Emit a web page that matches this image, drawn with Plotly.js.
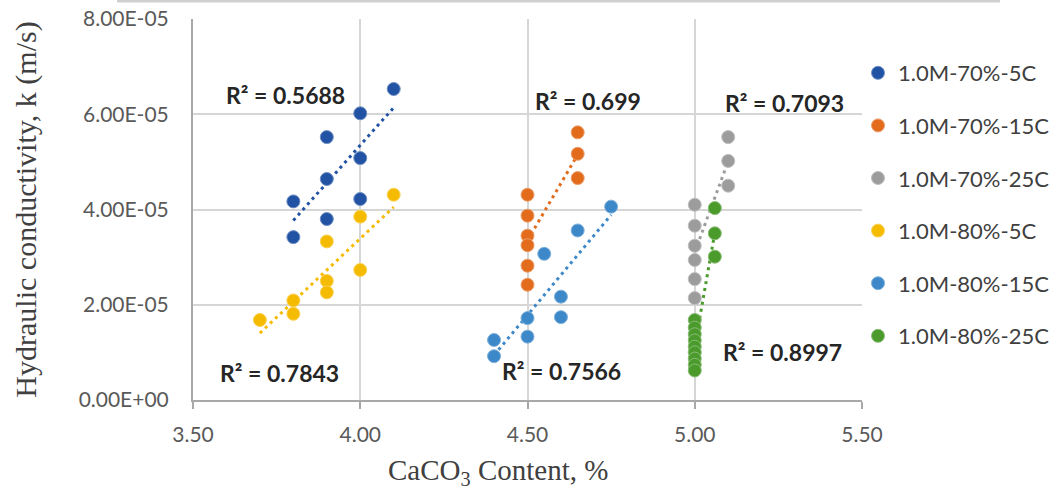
<!DOCTYPE html>
<html>
<head>
<meta charset="utf-8">
<script src="https://cdn.plot.ly/plotly-3.0.1.min.js"></script>
<style>html,body{margin:0;padding:0;background:#fff;}#chart{width:1058px;height:492px;}</style>
</head>
<body>
<div id="chart"></div>
<script>
// ---- data (CaCO3 content %, hydraulic conductivity m/s) ----
const seriesNames = ["1.0M-70%-5C","1.0M-70%-15C","1.0M-70%-25C","1.0M-80%-5C","1.0M-80%-15C","1.0M-80%-25C"];
const seriesColors = ["#2152a3","#e26b1c","#9c9c9c","#f5bb00","#3d88c9","#4b9a2c"];

const x_70_5C  = [4.10, 4.00, 3.90, 4.00, 3.90, 3.80, 4.00, 3.90, 3.80];
const k_70_5C  = [6.53e-5, 6.02e-5, 5.52e-5, 5.08e-5, 4.64e-5, 4.17e-5, 4.22e-5, 3.80e-5, 3.42e-5];

const x_70_15C = [4.65, 4.65, 4.65, 4.50, 4.50, 4.50, 4.50, 4.50, 4.50];
const k_70_15C = [5.62e-5, 5.17e-5, 4.66e-5, 4.31e-5, 3.87e-5, 3.45e-5, 3.25e-5, 2.82e-5, 2.42e-5];

const x_70_25C = [5.10, 5.10, 5.10, 5.00, 5.00, 5.00, 5.00, 5.00, 5.00];
const k_70_25C = [5.52e-5, 5.02e-5, 4.50e-5, 4.10e-5, 3.66e-5, 3.24e-5, 2.94e-5, 2.54e-5, 2.14e-5];

const x_80_5C  = [4.10, 4.00, 3.90, 4.00, 3.90, 3.90, 3.80, 3.80, 3.70];
const k_80_5C  = [4.31e-5, 3.85e-5, 3.33e-5, 2.73e-5, 2.50e-5, 2.26e-5, 2.09e-5, 1.81e-5, 1.68e-5];

const x_80_15C = [4.75, 4.65, 4.55, 4.60, 4.60, 4.50, 4.50, 4.40, 4.40];
const k_80_15C = [4.06e-5, 3.56e-5, 3.07e-5, 2.17e-5, 1.74e-5, 1.72e-5, 1.33e-5, 1.26e-5, 0.92e-5];

const x_80_25C = [5.06, 5.06, 5.06, 5.00, 5.00, 5.00, 5.00, 5.00, 5.00, 5.00, 5.00, 5.00];
const k_80_25C = [4.03e-5, 3.50e-5, 3.01e-5, 1.68e-5, 1.52e-5, 1.38e-5, 1.25e-5, 1.12e-5, 1.00e-5, 0.87e-5, 0.74e-5, 0.62e-5];

const r2Labels = ["R² = 0.5688","R² = 0.699","R² = 0.7093","R² = 0.7843","R² = 0.7566","R² = 0.8997"];
const r2X = [3.778, 4.68, 5.267, 3.76, 4.603, 5.262];
const r2Y = [6.41e-5, 6.28e-5, 6.24e-5, 0.57e-5, 0.61e-5, 1.01e-5];

const xTickVals = [3.5, 4.0, 4.5, 5.0, 5.5];
const xTickText = ["3.50","4.00","4.50","5.00","5.50"];
const yTickVals = [0, 2e-5, 4e-5, 6e-5, 8e-5];
const yTickText = ["0.00E+00","2.00E-05","4.00E-05","6.00E-05","8.00E-05"];
const xTitle = "CaCO<sub>3</sub> Content, %";
const yTitle = "Hydraulic conductivity, k (m/s)";

// ---- build ----
const xs = [x_70_5C, x_70_15C, x_70_25C, x_80_5C, x_80_15C, x_80_25C];
const ks = [k_70_5C, k_70_15C, k_70_25C, k_80_5C, k_80_15C, k_80_25C];

function lighten(hex, f){
  const n = parseInt(hex.slice(1),16);
  let r=(n>>16)&255,g=(n>>8)&255,b=n&255;
  r=Math.round(r+(255-r)*f);g=Math.round(g+(255-g)*f);b=Math.round(b+(255-b)*f);
  return `rgb(${r},${g},${b})`;
}
function fit(x,y){
  const n=x.length; let mx=0,my=0;
  for(let i=0;i<n;i++){mx+=x[i];my+=y[i];}
  mx/=n;my/=n;let sxy=0,sxx=0;
  for(let i=0;i<n;i++){sxy+=(x[i]-mx)*(y[i]-my);sxx+=(x[i]-mx)*(x[i]-mx);}
  const s=sxy/sxx; return {s:s,b:my-s*mx};
}

const traces = [];
for(let i=0;i<6;i++){
  const f = fit(xs[i], ks[i]);
  const x0 = Math.min(...xs[i]), x1 = Math.max(...xs[i]);
  traces.push({
    x:[x0,x1], y:[f.s*x0+f.b, f.s*x1+f.b], type:"scatter", mode:"lines",
    line:{color:seriesColors[i], width:3, dash:"3px,4px"},
    showlegend:false, hoverinfo:"skip"
  });
}
for(let i=0;i<6;i++){
  traces.push({
    x:xs[i], y:ks[i], type:"scatter", mode:"markers", name:seriesNames[i],
    legendgroup:"g"+i,
    marker:{color:seriesColors[i], size:13, line:{color:lighten(seriesColors[i],0.35), width:1}}
  });
}

const annotations = r2Labels.map((t,i)=>({
  x:r2X[i], y:r2Y[i], xref:"x", yref:"y", text:"<b>"+t+"</b>", showarrow:false,
  font:{family:"Lato, 'Open Sans', sans-serif", size:23, color:"#262626"},
  xanchor:"center", yanchor:"middle"
}));
annotations.push({
  x:(498-193)/669, y:(400-472)/381, xref:"paper", yref:"paper", text:xTitle, showarrow:false,
  font:{family:"'Liberation Serif', 'DejaVu Serif', serif", size:29, color:"#404040"},
  xanchor:"center", yanchor:"middle"
});

const layout = {
  width:1058, height:492,
  margin:{l:193, r:196, t:19, b:92, pad:0, autoexpand:false},
  paper_bgcolor:"#fff", plot_bgcolor:"#fff",
  showlegend:true,
  font:{family:"Lato, 'Open Sans', sans-serif", color:"#595959"},
  xaxis:{
    range:[3.5,5.5], tickvals:xTickVals, ticktext:xTickText,
    showgrid:true, gridcolor:"#d6d6d6", gridwidth:2,
    showline:true, linecolor:"#a8a8a8", linewidth:2,
    ticks:"outside", ticklen:7, tickcolor:"#a8a8a8", tickwidth:2,
    ticklabelstandoff:8,
    tickfont:{size:21, color:"#595959"},
    zeroline:false, fixedrange:true, automargin:false
  },
  yaxis:{
    range:[0,8e-5], tickvals:yTickVals, ticktext:yTickText,
    showgrid:true, gridcolor:"#d6d6d6", gridwidth:2,
    showline:true, linecolor:"#a8a8a8", linewidth:2,
    ticks:"", ticklen:0,
    ticklabelstandoff:18,
    tickfont:{size:21, color:"#595959"},
    zeroline:false, fixedrange:true, automargin:false,
    title:{text:yTitle, font:{family:"'Liberation Serif', 'DejaVu Serif', serif", size:30, color:"#404040"}, standoff:33}
  },
  legend:{
    x:(858-193)/669, xanchor:"left", y:(400-52)/381, yanchor:"top",
    traceorder:"grouped", tracegroupgap:21,
    font:{size:22, color:"#404040"},
    bgcolor:"rgba(0,0,0,0)", borderwidth:0, itemwidth:30
  },
  annotations:annotations,
  shapes:[{type:"line", xref:"paper", yref:"paper",
    x0:(117-193)/669, x1:(1000-193)/669, y0:(492-92-1)/381, y1:(492-92-1)/381,
    line:{color:"#d0d0d0", width:3}}]
};

Plotly.newPlot("chart", traces, layout, {staticPlot:true, displayModeBar:false});
</script>
</body>
</html>
